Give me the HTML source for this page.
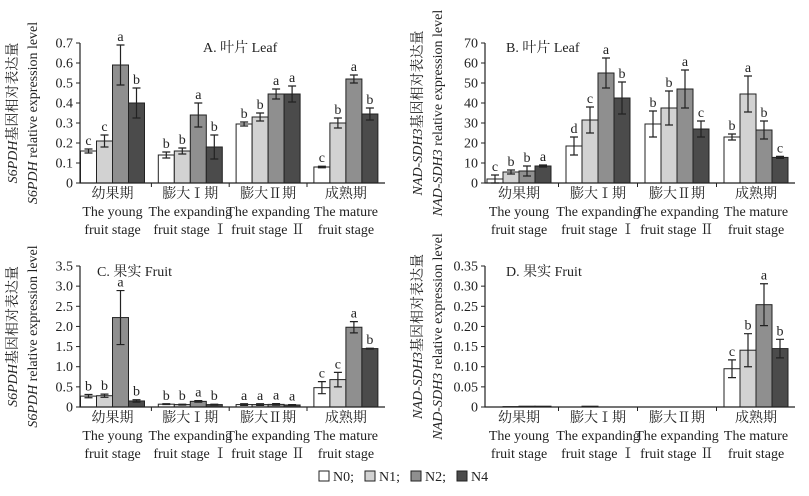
<!DOCTYPE html>
<html><head><meta charset="utf-8">
<style>
html,body{margin:0;padding:0;background:#fff;}
svg text{font-family:"Liberation Serif","Noto Serif CJK SC","Noto Sans CJK SC",serif;}
</style></head>
<body>
<svg id="chart" width="809" height="491" viewBox="0 0 809 491" font-family="Liberation Serif, Noto Serif CJK SC, serif"></svg>
<script>
const seriesNames = ["N0","N1","N2","N4"];
const seriesColors = ["#ffffff","#d2d2d2","#8f8f8f","#4b4b4b"];
const catZh = ["幼果期","膨大Ⅰ期","膨大Ⅱ期","成熟期"];
const catEn1 = ["The young","The expanding","The expanding","The mature"];
const catEn2 = ["fruit stage","fruit stage Ⅰ","fruit stage Ⅱ","fruit stage"];

const aValues = [[0.16,0.21,0.59,0.40],[0.14,0.16,0.34,0.18],[0.295,0.33,0.445,0.445],[0.08,0.30,0.52,0.345]];
const aErrors = [[0.01,0.03,0.10,0.075],[0.015,0.015,0.06,0.06],[0.01,0.02,0.025,0.04],[0.004,0.025,0.02,0.03]];
const aLetters = [["c","c","a","b"],["b","b","a","b"],["b","b","a","a"],["c","b","a","b"]];
const aTicks = ["0","0.1","0.2","0.3","0.4","0.5","0.6","0.7"];

const bValues = [[2,5.5,6,8.5],[18.5,31.5,55,42.5],[29.5,37.5,47,27],[23,44.5,26.5,12.8]];
const bErrors = [[2,1,2.5,0.5],[4.5,6.5,7.5,8],[6.5,8.5,9.5,4],[1.5,9,4.5,0.5]];
const bLetters = [["c","b","b","a"],["d","c","a","b"],["b","b","a","c"],["b","a","b","c"]];
const bTicks = ["0","10","20","30","40","50","60","70"];

const cValues = [[0.27,0.28,2.22,0.15],[0.07,0.06,0.14,0.06],[0.06,0.06,0.065,0.05],[0.48,0.68,1.98,1.45]];
const cErrors = [[0.04,0.04,0.67,0.03],[0.01,0.01,0.02,0.01],[0.02,0.02,0.02,0.01],[0.15,0.18,0.14,0.01]];
const cLetters = [["b","b","a","b"],["b","b","a","b"],["a","a","a","a"],["c","c","a","b"]];
const cTicks = ["0","0.5","1.0","1.5","2.0","2.5","3.0","3.5"];

const dValues = [[0,0.001,0.002,0.002],[0,0.002,0,0],[0,0,0,0],[0.095,0.141,0.254,0.145]];
const dErrors = [[0,0,0,0],[0,0,0,0],[0,0,0,0],[0.022,0.041,0.052,0.023]];
const dLetters = [["","","",""],["","","",""],["","","",""],["c","b","a","b"]];
const dTicks = ["0","0.05","0.10","0.15","0.20","0.25","0.30","0.35"];

const NS="http://www.w3.org/2000/svg";
const svg=document.getElementById('chart');
const FF='"Liberation Serif","Noto Serif CJK SC",serif';
function mk(tag,attrs,parent,text){const e=document.createElementNS(NS,tag);for(const k in attrs)e.setAttribute(k,attrs[k]);if(tag==='text')e.setAttribute('font-family',FF);if(text!==undefined)e.textContent=text;(parent||svg).appendChild(e);return e;}

const panels=[
 {id:"a",x0:80,x1:385,yT:43,yB:183,max:0.7,step:77.8,off:32.5,vals:aValues,errs:aErrors,lets:aLetters,ticks:aTicks,title:"A. 叶片 Leaf",tx:203,ty:52,g1:"S6PDH",g2:"S6PDH",t1:"基因相对表达量",labY:198},
 {id:"b",x0:485,x1:795,yT:43,yB:183,max:70,step:79,off:34,vals:bValues,errs:bErrors,lets:bLetters,ticks:bTicks,title:"B. 叶片 Leaf",tx:506,ty:52,g1:"NAD-SDH3",g2:"NAD-SDH3",t1:"基因相对表达量",labY:198},
 {id:"c",x0:80,x1:385,yT:266,yB:407,max:3.5,step:77.8,off:32.5,vals:cValues,errs:cErrors,lets:cLetters,ticks:cTicks,title:"C. 果实 Fruit",tx:97,ty:276,g1:"S6PDH",g2:"S6PDH",t1:"基因相对表达量",labY:422},
 {id:"d",x0:485,x1:795,yT:266,yB:407,max:0.35,step:79,off:34,vals:dValues,errs:dErrors,lets:dLetters,ticks:dTicks,title:"D. 果实 Fruit",tx:506,ty:276,g1:"NAD-SDH3",g2:"NAD-SDH3",t1:"基因相对表达量",labY:422}
];

panels.forEach(p=>{
  const g=mk('g',{});
  
  
  const y=v=>p.yB-(v/p.max)*(p.yB-p.yT);
  const cx=i=>p.x0+p.off+i*p.step;
  const bw=16;
  p.vals.forEach((grp,i)=>{
    grp.forEach((v,s)=>{
      const x=cx(i)-2*bw+s*bw;
      const yt=y(v);
      const r=mk('rect',{x:x,y:yt,width:bw,height:Math.max(p.yB-yt,0),fill:seriesColors[s],stroke:"#222","stroke-width":1},g);
      
      
      const e=p.errs[i][s];
      const xm=x+bw/2;
      if(e>0){
        const e1=y(v+e),e2=y(v-e);
        const eb=mk('path',{d:`M${xm},${e1}V${e2}M${xm-4},${e1}H${xm+4}M${xm-4},${e2}H${xm+4}`,stroke:"#222","stroke-width":1.2,fill:"none"},g);
        
        
      }
      const L=p.lets[i][s];
      if(L){
        const t=mk('text',{x:xm,y:y(v+e)-4,"text-anchor":"middle","font-size":14,fill:"#222"},g,L);
        
        
      }
    });
  });
  const ax=mk('path',{d:`M${p.x0},${p.yT}V${p.yB}H${p.x1}`,stroke:"#222","stroke-width":1.2,fill:"none"},g);
  
  
  p.ticks.forEach((t,k)=>{
    const v=k*p.max/(p.ticks.length-1);
    const yy=y(v);
    mk('line',{x1:p.x0-4,x2:p.x0,y1:yy,y2:yy,stroke:"#222"},g);
    const tl=mk('text',{x:p.x0-7,y:yy+4.5,"text-anchor":"end","font-size":14,fill:"#222"},g,t);
    
    
  });
  for(let i=0;i<3;i++){
    const xb=(cx(i)+cx(i+1))/2;
    mk('line',{x1:xb,x2:xb,y1:p.yB,y2:p.yB+4,stroke:"#222"},g);
  }
  catZh.forEach((c,i)=>{
    const t1=mk('text',{x:cx(i),y:p.labY,"text-anchor":"middle","font-size":14,fill:"#222"},g,c);
    
    
    mk('text',{x:cx(i),y:p.labY+18,"text-anchor":"middle","font-size":14,fill:"#222"},g,catEn1[i]);
    mk('text',{x:cx(i),y:p.labY+36,"text-anchor":"middle","font-size":14,fill:"#222"},g,catEn2[i]);
  });
  const tt=mk('text',{x:p.tx,y:p.ty,"font-size":14,fill:"#222"},g,p.title);
  
  
  const mid=(p.yT+p.yB)/2;
  const xa=p.x0-63, xb2=p.x0-43;
  const y1=mk('text',{transform:`translate(${xa},${mid}) rotate(-90)`,"text-anchor":"middle","font-size":14,fill:"#222"},g);
  
  
  mk('tspan',{"font-style":"italic"},y1,p.g1);
  mk('tspan',{},y1,p.t1);
  const y2=mk('text',{transform:`translate(${xb2},${mid}) rotate(-90)`,"text-anchor":"middle","font-size":14,fill:"#222"},g);
  
  
  mk('tspan',{"font-style":"italic"},y2,p.g2);
  mk('tspan',{},y2," relative expression level");
});

const lg=mk('g',{});


seriesNames.forEach((n,s)=>{
  const bx=319+s*46;
  const e=mk('g',{},lg);
  
  
  mk('rect',{x:bx,y:471,width:10,height:10,fill:seriesColors[s],stroke:"#222"},e);
  mk('text',{x:bx+14,y:481,"font-size":14,fill:"#222"},e,n+(s<3?";":""));
});
</script>
</body></html>
